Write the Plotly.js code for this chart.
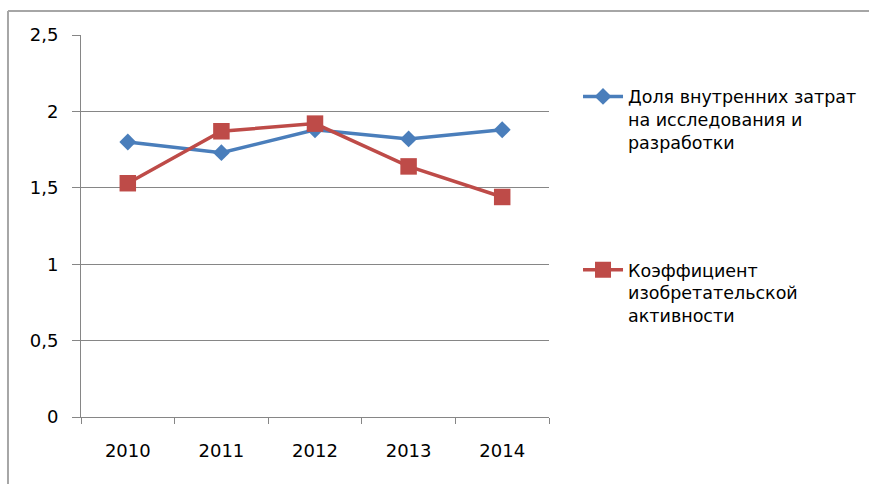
<!DOCTYPE html>
<html>
<head>
<meta charset="utf-8">
<script src="https://cdn.plot.ly/plotly-3.0.1.min.js"></script>
<style>html,body{margin:0;padding:0;background:#fff;}#chart{width:869px;height:484px;}</style>
</head>
<body>
<div id="chart"></div>
<script>
var years = ["2010", "2011", "2012", "2013", "2014"];
var rdShare = [1.80, 1.73, 1.88, 1.82, 1.88];
var inventCoef = [1.53, 1.87, 1.92, 1.64, 1.44];
var seriesNames = [
  "Доля внутренних затрат<br>на исследования и<br>разработки",
  "Коэффициент<br>изобретательской<br>активности"
];
var yTickVals = [0, 0.5, 1, 1.5, 2, 2.5];
var yTickText = ["0", "0,5", "1", "1,5", "2", "2,5"];

var FONT = "DejaVu Sans, Verdana, sans-serif";

var traces = [
  {
    x: years, y: rdShare, name: seriesNames[0], type: "scatter", mode: "lines+markers",
    line: {color: "#4a7ebb", width: 3.5},
    marker: {symbol: "diamond", size: 13, color: "#4a7ebb"},
    legendgroup: "a"
  },
  {
    x: years, y: inventCoef, name: seriesNames[1], type: "scatter", mode: "lines+markers",
    line: {color: "#be4b48", width: 3.5},
    marker: {symbol: "square", size: 16.5, color: "#be4b48"},
    legendgroup: "b"
  }
];

var layout = {
  width: 869, height: 484,
  margin: {l: 81, r: 320, t: 35, b: 67, autoexpand: false},
  paper_bgcolor: "#ffffff", plot_bgcolor: "#ffffff",
  font: {family: FONT, size: 18, color: "#000"},
  showlegend: true,
  legend: {
    x: 1.062, y: 0.886, xanchor: "left", yanchor: "top", valign: "top",
    font: {family: FONT, size: 17.5, color: "#000"},
    tracegroupgap: 102, itemwidth: 40, bgcolor: "rgba(0,0,0,0)"
  },
  xaxis: {
    type: "category", tickson: "boundaries", ticks: "outside", ticklen: 6, tickcolor: "#868686",
    showline: true, linecolor: "#868686", linewidth: 1, showgrid: false, zeroline: false,
    tickfont: {family: FONT, size: 18, color: "#000"}, ticklabelstandoff: 17,
    range: [-0.5, 4.5]
  },
  yaxis: {
    range: [0, 2.5], tickvals: yTickVals, ticktext: yTickText,
    ticks: "outside", ticklen: 8, tickcolor: "#868686",
    showline: true, linecolor: "#868686", linewidth: 1,
    showgrid: true, gridcolor: "#868686", gridwidth: 1, zeroline: false,
    tickfont: {family: FONT, size: 18, color: "#000"}, ticklabelstandoff: 10
  },
  shapes: [
    {type: "line", xref: "paper", yref: "paper", x0: -0.156, x1: 1.69, y0: 1.0628, y1: 1.0628,
     line: {color: "#a6a6a6", width: 2}},
    {type: "line", xref: "paper", yref: "paper", x0: -0.156, x1: -0.156, y0: 1.0628, y1: -0.2,
     line: {color: "#a6a6a6", width: 2}}
  ]
};

Plotly.newPlot("chart", traces, layout, {displayModeBar: false, staticPlot: true});
</script>
</body>
</html>
